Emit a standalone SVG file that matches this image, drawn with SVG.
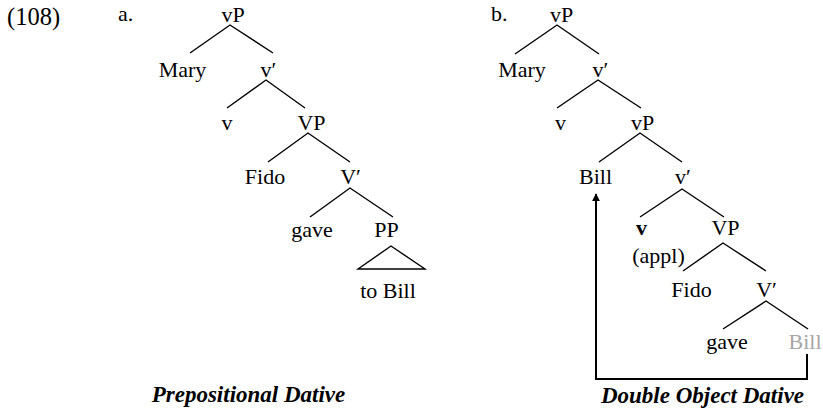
<svg xmlns="http://www.w3.org/2000/svg" width="823" height="412" viewBox="0 0 823 412">
<defs>
<style>
.t{font-family:"Liberation Serif","Times New Roman",serif;font-size:22px;fill:#000}
.m{text-anchor:middle}
.cap{font-weight:bold;font-style:italic;font-size:23px}
.num{font-size:24.5px}
.gray{fill:#a6a6a6}
.e{stroke:#000;stroke-width:1.4;fill:none}
.mv{stroke:#000;stroke-width:2;fill:none}
</style>
<marker id="ah" viewBox="0 0 10 10" refX="9" refY="5" markerWidth="8" markerHeight="8" markerUnits="userSpaceOnUse" orient="auto">
<path d="M0,0 L10,5 L0,10 z" fill="#000"/>
</marker>
</defs>
<rect width="823" height="412" fill="#fff"/>
<text class="t num" x="7" y="25">(108)</text>
<text class="t" x="118" y="21">a.</text>
<text class="t" x="491" y="21">b.</text>

<g id="connectors">
<path class="e" d="M190,53 L230,25 L273,53"/>
<path class="e" d="M227,108 L266,80 L305,108"/>
<path class="e" d="M268,162 L308,133 L350,162"/>
<path class="e" d="M310,217 L350,188 L393,217"/>
<path class="e" d="M358,269 L391,246 L425,269 Z"/>
<path class="e" d="M515,54 L557,25 L599,54"/>
<path class="e" d="M557,108 L598,80 L641,108"/>
<path class="e" d="M599,162 L640,133 L682,162"/>
<path class="e" d="M640,217 L682,189 L724,217"/>
<path class="e" d="M683,271 L723,243 L766,271"/>
<path class="e" d="M723,329 L766,301 L808,329"/>
<path class="mv" d="M807,354 L807,379 L596,379 L596,194" marker-end="url(#ah)"/>
</g>

<g id="a-vP"><text class="t m" x="233" y="22">vP</text></g>
<g id="a-Mary"><text class="t m" x="182.5" y="77">Mary</text></g>
<g id="a-vbar"><text class="t m" x="268.5" y="77">v′</text></g>
<g id="a-v"><text class="t m" x="227" y="130">v</text></g>
<g id="a-VP"><text class="t m" x="311.5" y="130">VP</text></g>
<g id="a-Fido"><text class="t m" x="265" y="184">Fido</text></g>
<g id="a-Vbar"><text class="t m" x="350.5" y="184">V′</text></g>
<g id="a-gave"><text class="t m" x="312" y="237">gave</text></g>
<g id="a-PP"><text class="t m" x="386.5" y="237">PP</text></g>
<g id="a-toBill"><text class="t m" x="388" y="298">to Bill</text></g>
<text class="t m cap" x="248.5" y="402">Prepositional Dative</text>

<g id="b-vP"><text class="t m" x="561.5" y="22">vP</text></g>
<g id="b-Mary"><text class="t m" x="522" y="77">Mary</text></g>
<g id="b-vbar"><text class="t m" x="600.5" y="77">v′</text></g>
<g id="b-v"><text class="t m" x="560.5" y="130">v</text></g>
<g id="b-vP2"><text class="t m" x="642.5" y="130">vP</text></g>
<g id="b-Bill"><text class="t m" x="595.5" y="184">Bill</text></g>
<g id="b-vbar2"><text class="t m" x="683" y="184">v′</text></g>
<g id="b-vappl"><text class="t m" x="641.5" y="235" style="font-weight:bold">v</text><text class="t m" x="658.5" y="263">(appl)</text></g>
<g id="b-VP"><text class="t m" x="725.5" y="235">VP</text></g>
<g id="b-Fido"><text class="t m" x="691.5" y="297">Fido</text></g>
<g id="b-Vbar"><text class="t m" x="766.5" y="297">V′</text></g>
<g id="b-gave"><text class="t m" x="727" y="349">gave</text></g>
<g id="b-Bill2"><text class="t m gray" x="805" y="349">Bill</text></g>
<text class="t m cap" x="702.5" y="403">Double Object Dative</text>
</svg>
